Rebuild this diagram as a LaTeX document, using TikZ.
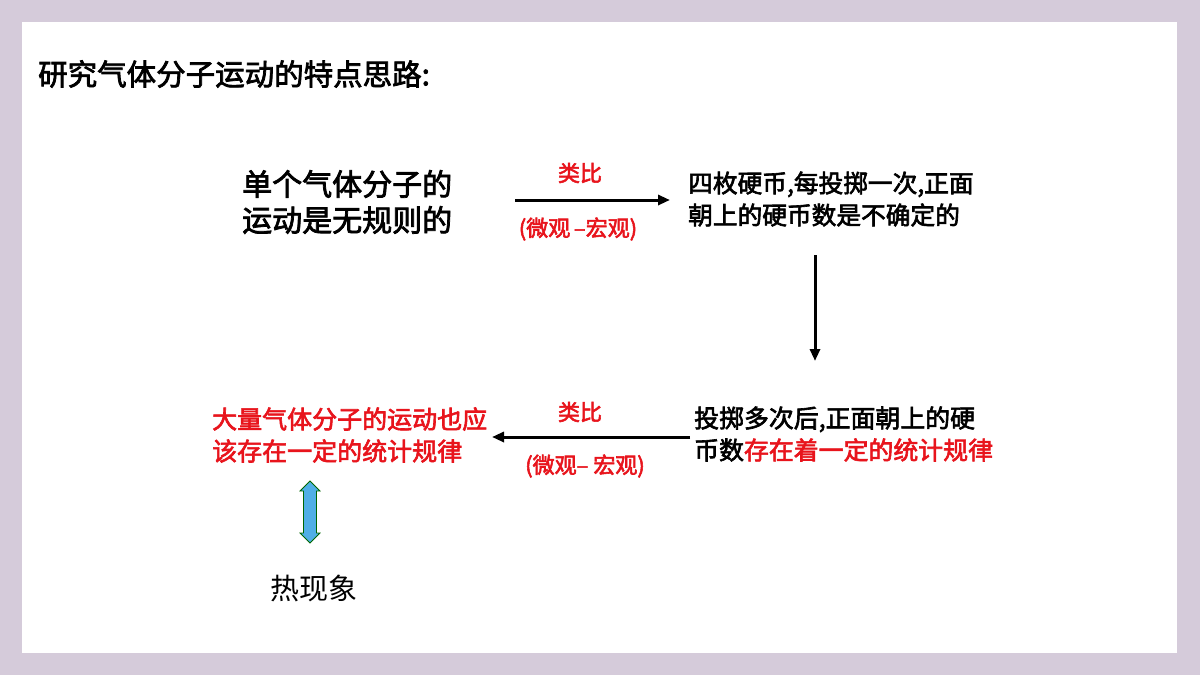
\documentclass[tikz,border=0pt]{standalone}
\usepackage{fontspec}
\setmainfont{Liberation Sans}
\newfontfamily\cjk{Noto Sans CJK SC}[AutoFakeBold=2.5]
\usetikzlibrary{arrows.meta,shapes.arrows}
\definecolor{bg}{HTML}{D5CBDA}
\definecolor{rd}{HTML}{E8141C}
\tikzset{txt/.style={inner sep=0pt,align=left,font=\cjk\bfseries},
 arr/.style={-{Triangle[length=12pt,width=10pt]},line width=3pt},
 lab/.style={inner sep=0pt,text=rd,font=\cjk\bfseries\fontsize{22}{24}\selectfont}}
\begin{document}
\begin{tikzpicture}[x=1pt,y=-1pt]
\useasboundingbox (0,0) rectangle (1200,675);
\fill[bg] (0,0) rectangle (1200,675);
\fill[white] (22,22) rectangle (1177,653);
\node[txt,anchor=west,font=\cjk\bfseries\fontsize{29.5}{31}\selectfont] (title) at (38,74) {研究气体分子运动的特点思路:};
\node[txt,anchor=west,font=\cjk\bfseries\fontsize{30}{36}\selectfont] (a) at (242,202) {单个气体分子的\\运动是无规则的};
\node[txt,anchor=west,font=\cjk\bfseries\fontsize{24.7}{32}\selectfont] (b) at (688,199) {四枚硬币,每投掷一次,正面\\朝上的硬币数是不确定的};
\node[txt,anchor=west,font=\cjk\bfseries\fontsize{24.9}{32}\selectfont] (c) at (694,434) {投掷多次后,正面朝上的硬\\币数\textcolor{rd}{存在着一定的统计规律}};
\node[txt,anchor=west,text=rd,font=\cjk\bfseries\fontsize{25}{32}\selectfont] (d) at (212,435) {大量气体分子的运动也应\\该存在一定的统计规律};
\node[txt,anchor=west,font=\cjk\fontsize{29}{31}\selectfont] (e) at (270,588) {热现象};
\coordinate (a1) at (515,200); \coordinate (b1) at (670,200);
\draw[arr] (a1) -- (b1);
\node[lab] (l1) at (580,173) {类比};
\node[lab] (l2) at (578,229) {(微观\,–宏观)};
\coordinate (c1) at (815,255); \coordinate (c2) at (815,361);
\draw[arr] (c1) -- (c2);
\coordinate (d1) at (690,437); \coordinate (d2) at (492,437);
\draw[arr] (d1) -- (d2);
\node[lab] (l3) at (580,412) {类比};
\node[lab] (l4) at (585,466) {(微观– 宏观)};
\node[double arrow,draw=green!40!black,fill=cyan!80!blue!70,line width=0.8pt,rotate=90,minimum width=20pt,double arrow head extend=3pt,minimum height=62pt,inner sep=5pt,double arrow tip angle=90] (da) at (310,512) {};
\end{tikzpicture}
\end{document}
